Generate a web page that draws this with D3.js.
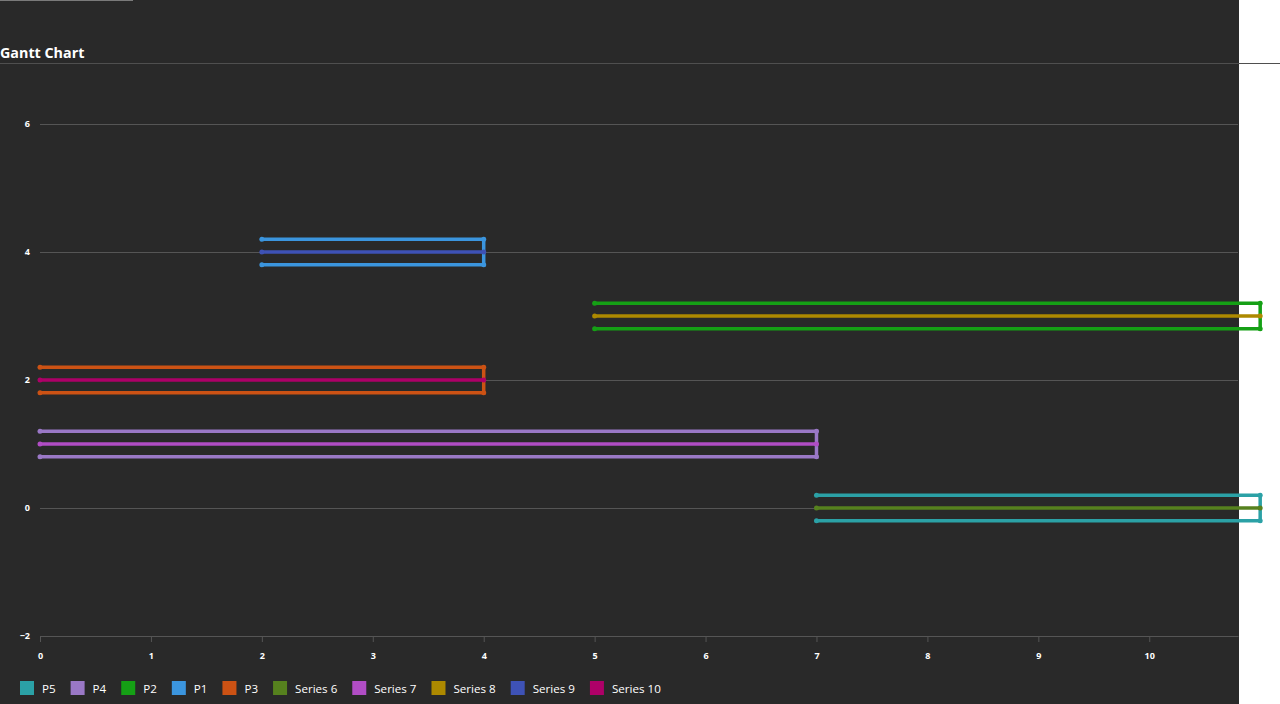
<!DOCTYPE html>
<html><head><meta charset="utf-8">
<script src="https://cdn.jsdelivr.net/npm/d3@7"></script>
<style>
html,body{margin:0;padding:0;background:#fff;overflow:hidden;}
#bg{position:absolute;left:0;top:0;width:1239px;height:704px;background:#292929;}
svg{position:absolute;left:0;top:0;overflow:visible;}
text{font-family:"Open Sans","Noto Sans",sans-serif;}
</style></head>
<body><div id="bg"></div><svg id="chart" width="1280" height="704"></svg>
<script>
const tasks = ["P5","P4","P2","P1","P3"];
const taskRows = [0,1,3,4,2];
const taskStart = [7,0,5,2,0];
const taskEnd = [11,7,11,4,4];
const taskColors = ["#2ba1a6","#9a78c6","#15a015","#3b95de","#cc5214"];
const midSeries = ["Series 6","Series 7","Series 8","Series 9","Series 10"];
const midRows = [0,1,3,4,2];
const midStart = [7,0,5,2,0];
const midEnd = [11,7,11,4,4];
const midColors = ["#56811e","#b14dc5","#ad8900","#3e52b6","#ae0068"];
const halfWidth = 0.2;
const xTicks = [0,1,2,3,4,5,6,7,8,9,10];
const yTicks = [-2,0,2,4,6];

const svg = d3.select("#chart");
const x = d3.scaleLinear().domain([0,10.8]).range([40,1238]);
const y = d3.scaleLinear().domain([-2,7]).range([636,60]);

svg.append("line").attr("x1",0).attr("x2",133).attr("y1",0.5).attr("y2",0.5).attr("stroke","#7a7a7a").attr("stroke-width",1);
svg.append("text").attr("x",0).attr("y",58).attr("fill","#fff").attr("font-size",14.3).attr("font-weight",700).text("Gantt Chart");
svg.append("line").attr("x1",0).attr("x2",1280).attr("y1",63.5).attr("y2",63.5).attr("stroke","#4f4f4f").attr("stroke-width",1);

const gy = svg.append("g").attr("transform","translate(40,0)")
  .call(d3.axisLeft(y).tickValues(yTicks).tickSize(-1198).tickFormat(d3.format("d")).tickPadding(10));
gy.select(".domain").remove();
gy.selectAll(".tick line").attr("stroke","#555").attr("stroke-width",1)
  .filter(d=>d===-2).remove();
gy.selectAll(".tick text").attr("fill","#fff").attr("font-size",9).attr("font-weight",700)
  .attr("font-family","'Open Sans',sans-serif").attr("x",-10);

const gx = svg.append("g").attr("transform","translate(0,636)")
  .call(d3.axisBottom(x).tickValues(xTicks).tickSize(6).tickSizeOuter(0).tickFormat(d3.format("d")).tickPadding(11));
gx.select(".domain").attr("stroke","#555");
gx.selectAll(".tick line").attr("stroke","#555");
gx.selectAll(".tick text").attr("fill","#fff").attr("font-size",9).attr("font-weight",700)
  .attr("font-family","'Open Sans',sans-serif");

const line = d3.line().x(d=>x(d[0])).y(d=>y(d[1]));

tasks.forEach((t,i)=>{
  const r = taskRows[i];
  const pts = [[taskStart[i],r+halfWidth],[taskEnd[i],r+halfWidth],[taskEnd[i],r-halfWidth],[taskStart[i],r-halfWidth]];
  const g = svg.append("g");
  g.append("path").attr("d",line(pts)).attr("fill","none").attr("stroke",taskColors[i]).attr("stroke-width",3.5).attr("stroke-linejoin","miter");
  g.selectAll("circle").data(pts).join("circle").attr("cx",d=>x(d[0])).attr("cy",d=>y(d[1])).attr("r",2.5).attr("fill",taskColors[i]);
});
midSeries.forEach((s,i)=>{
  const r = midRows[i];
  const pts = [[midStart[i],r],[midEnd[i],r]];
  const g = svg.append("g");
  g.append("path").attr("d",line(pts)).attr("fill","none").attr("stroke",midColors[i]).attr("stroke-width",3.5);
  g.selectAll("circle").data(pts).join("circle").attr("cx",d=>x(d[0])).attr("cy",d=>y(d[1])).attr("r",2.5).attr("fill",midColors[i]);
});

const legendNames = tasks.concat(midSeries);
const legendColors = taskColors.concat(midColors);
let lx = 20;
legendNames.forEach((n,i)=>{
  const g = svg.append("g").attr("transform",`translate(${lx},681)`);
  g.append("rect").attr("width",14).attr("height",14).attr("fill",legendColors[i]);
  const t = g.append("text").attr("x",22).attr("y",11.5).attr("fill","#fff").attr("font-size",11.6).text(n);
  lx += 22 + t.node().getComputedTextLength() + 15;
});
</script></body></html>
